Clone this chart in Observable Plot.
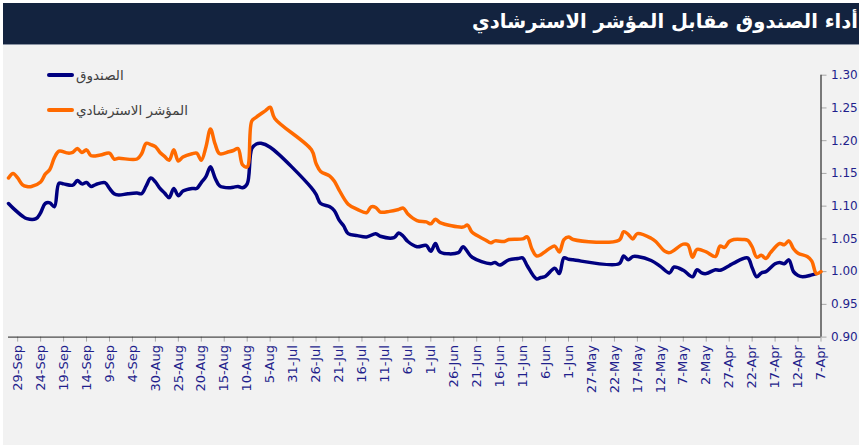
<!DOCTYPE html>
<html><head><meta charset="utf-8">
<script src="https://cdn.jsdelivr.net/npm/d3@7"></script>
<script src="https://cdn.jsdelivr.net/npm/@observablehq/plot@0.6"></script>
<style>
html,body{margin:0;padding:0;background:#fff;}
#wrap{position:relative;width:859px;height:445px;overflow:hidden;background:#fff;}
#panel{position:absolute;left:3px;top:3px;width:856px;height:442px;background:#f2f2f2;}
#title{position:absolute;left:3px;top:3px;width:856px;height:41px;background:#13233f;overflow:hidden;border-bottom:1px solid #8a93a3;}
#title span{position:absolute;right:1px;top:7px;white-space:nowrap;direction:rtl;color:#fff;font:bold 19.5px "DejaVu Sans",sans-serif;}
#chart{position:absolute;left:0;top:45px;}
.leg{position:absolute;display:flex;align-items:center;font:13.5px "DejaVu Sans",sans-serif;color:#404040;white-space:nowrap;}
.leg i{display:inline-block;width:27px;height:3.5px;border-radius:2px;margin-right:2px;}
</style></head>
<body><div id="wrap"><div id="panel"></div><div id="title"><span></span></div><div id="chart"></div></div>
<script>
const titleText = "أداء الصندوق مقابل المؤشر الاسترشادي";
const seriesNames = ["الصندوق", "المؤشر الاسترشادي"];
const seriesColors = ["#000080", "#ff6a00"];

const fundDates = ["2021-10-01","2021-09-30","2021-09-28","2021-09-27","2021-09-25","2021-09-24","2021-09-23","2021-09-22","2021-09-21","2021-09-20","2021-09-19","2021-09-17","2021-09-16","2021-09-15","2021-09-14","2021-09-13","2021-09-12","2021-09-10","2021-09-09","2021-09-08","2021-09-07","2021-09-05","2021-09-03","2021-09-02","2021-09-01","2021-08-31","2021-08-30","2021-08-29","2021-08-28","2021-08-27","2021-08-26","2021-08-25","2021-08-24","2021-08-22","2021-08-21","2021-08-20","2021-08-19","2021-08-18","2021-08-17","2021-08-16","2021-08-14","2021-08-13","2021-08-12","2021-08-11","2021-08-10","2021-08-09","2021-08-08","2021-08-07","2021-08-05","2021-07-27","2021-07-26","2021-07-25","2021-07-23","2021-07-22","2021-07-21","2021-07-20","2021-07-19","2021-07-17","2021-07-15","2021-07-13","2021-07-12","2021-07-09","2021-07-08","2021-07-07","2021-07-06","2021-07-04","2021-07-02","2021-07-01","2021-06-30","2021-06-29","2021-06-25","2021-06-24","2021-06-22","2021-06-18","2021-06-17","2021-06-16","2021-06-14","2021-06-12","2021-06-11","2021-06-10","2021-06-08","2021-06-07","2021-06-06","2021-06-04","2021-06-03","2021-06-02","2021-06-01","2021-05-31","2021-05-21","2021-05-20","2021-05-19","2021-05-18","2021-05-17","2021-05-14","2021-05-12","2021-05-10","2021-05-09","2021-05-07","2021-05-05","2021-05-04","2021-05-03","2021-05-02","2021-04-30","2021-04-29","2021-04-27","2021-04-26","2021-04-23","2021-04-22","2021-04-21","2021-04-20","2021-04-19","2021-04-17","2021-04-16","2021-04-15","2021-04-14","2021-04-13","2021-04-12","2021-04-11","2021-04-09","2021-04-08"];
const fundValues = [1.104,1.097,1.085,1.081,1.081,1.090,1.104,1.105,1.099,1.135,1.134,1.132,1.139,1.134,1.136,1.130,1.133,1.136,1.127,1.119,1.117,1.119,1.120,1.119,1.131,1.143,1.137,1.127,1.120,1.113,1.127,1.116,1.123,1.127,1.127,1.136,1.145,1.160,1.143,1.131,1.128,1.129,1.130,1.128,1.134,1.188,1.195,1.196,1.190,1.128,1.118,1.104,1.099,1.093,1.079,1.070,1.058,1.055,1.053,1.058,1.054,1.052,1.059,1.054,1.046,1.038,1.040,1.031,1.043,1.030,1.029,1.038,1.022,1.012,1.014,1.010,1.018,1.020,1.021,1.009,0.989,0.991,0.993,1.005,0.997,1.021,1.019,1.018,1.012,1.024,1.018,1.023,1.023,1.017,1.008,0.998,1.007,1.002,0.992,1.003,0.998,0.997,1.003,1.002,1.009,1.013,1.021,1.006,0.992,0.998,1.000,1.012,1.014,1.012,1.018,1.000,0.994,0.992,0.995,0.997];

const benchDates = ["2021-10-01","2021-09-30","2021-09-29","2021-09-28","2021-09-27","2021-09-26","2021-09-24","2021-09-23","2021-09-22","2021-09-21","2021-09-20","2021-09-18","2021-09-17","2021-09-16","2021-09-15","2021-09-14","2021-09-13","2021-09-11","2021-09-09","2021-09-08","2021-09-07","2021-09-03","2021-09-02","2021-09-01","2021-08-31","2021-08-30","2021-08-29","2021-08-28","2021-08-27","2021-08-26","2021-08-25","2021-08-24","2021-08-22","2021-08-21","2021-08-20","2021-08-19","2021-08-18","2021-08-17","2021-08-16","2021-08-14","2021-08-13","2021-08-12","2021-08-11","2021-08-10","2021-08-09","2021-08-08","2021-08-06","2021-08-05","2021-08-04","2021-07-27","2021-07-26","2021-07-25","2021-07-23","2021-07-22","2021-07-21","2021-07-19","2021-07-17","2021-07-15","2021-07-14","2021-07-13","2021-07-12","2021-07-10","2021-07-08","2021-07-07","2021-07-06","2021-07-04","2021-07-02","2021-07-01","2021-06-30","2021-06-29","2021-06-24","2021-06-23","2021-06-22","2021-06-19","2021-06-18","2021-06-17","2021-06-15","2021-06-14","2021-06-11","2021-06-10","2021-06-09","2021-06-08","2021-06-07","2021-06-06","2021-06-05","2021-06-04","2021-06-03","2021-06-02","2021-06-01","2021-05-31","2021-05-21","2021-05-20","2021-05-19","2021-05-18","2021-05-17","2021-05-14","2021-05-13","2021-05-11","2021-05-10","2021-05-07","2021-05-06","2021-05-05","2021-05-04","2021-05-02","2021-04-30","2021-04-29","2021-04-28","2021-04-27","2021-04-26","2021-04-24","2021-04-23","2021-04-22","2021-04-21","2021-04-20","2021-04-19","2021-04-18","2021-04-16","2021-04-15","2021-04-14","2021-04-13","2021-04-12","2021-04-10","2021-04-09","2021-04-08","2021-04-07"];
const benchValues = [1.143,1.150,1.143,1.133,1.130,1.130,1.137,1.149,1.156,1.174,1.184,1.181,1.182,1.188,1.182,1.186,1.177,1.178,1.181,1.172,1.173,1.172,1.180,1.196,1.194,1.191,1.182,1.176,1.170,1.186,1.169,1.175,1.180,1.181,1.170,1.190,1.218,1.195,1.180,1.183,1.185,1.188,1.163,1.160,1.230,1.236,1.246,1.251,1.234,1.186,1.165,1.153,1.146,1.138,1.125,1.103,1.095,1.090,1.099,1.098,1.091,1.092,1.095,1.097,1.088,1.078,1.076,1.073,1.080,1.075,1.068,1.071,1.060,1.048,1.044,1.047,1.046,1.049,1.050,1.053,1.035,1.024,1.026,1.031,1.036,1.039,1.030,1.049,1.053,1.049,1.048,1.061,1.057,1.050,1.058,1.051,1.046,1.031,1.029,1.042,1.041,1.022,1.034,1.030,1.023,1.039,1.037,1.046,1.049,1.049,1.048,1.038,1.022,1.025,1.020,1.029,1.043,1.041,1.047,1.035,1.028,1.023,1.016,0.997,1.000];

const xTickDates = ["2021-04-07","2021-04-12","2021-04-17","2021-04-22","2021-04-27","2021-05-02","2021-05-07","2021-05-12","2021-05-17","2021-05-22","2021-05-27","2021-06-01","2021-06-06","2021-06-11","2021-06-16","2021-06-21","2021-06-26","2021-07-01","2021-07-06","2021-07-11","2021-07-16","2021-07-21","2021-07-26","2021-07-31","2021-08-05","2021-08-10","2021-08-15","2021-08-20","2021-08-25","2021-08-30","2021-09-04","2021-09-09","2021-09-14","2021-09-19","2021-09-24","2021-09-29"];
const yTicks = [0.90,0.95,1.00,1.05,1.10,1.15,1.20,1.25,1.30];
const xDomain = ["2021-04-07","2021-10-01"];

document.querySelector("#title span").textContent = titleText;

const fund = fundDates.map((d,i)=>({date:new Date(d), value:fundValues[i]}));
const bench = benchDates.map((d,i)=>({date:new Date(d), value:benchValues[i]}));
const fmt = d3.utcFormat("%-d-%b");

const chart = Plot.plot({
  width: 859, height: 400,
  marginLeft: 8, marginRight: 38.5, marginTop: 29.7, marginBottom: 108.4,
  style: {background: "transparent", fontFamily: "DejaVu Sans, sans-serif", fontSize: "13px"},
  x: {type: "utc", domain: xDomain.map(d=>new Date(d)), reverse: true},
  y: {domain: [0.9, 1.3]},
  marks: [
    Plot.axisX({anchor: "bottom", ticks: xTickDates.map(d=>new Date(d)), tickFormat: fmt, tickRotate: -90, tickSize: 5, tickPadding: 3, stroke: "#a6a6a6", fill: "#1f1f8c", label: null, fontSize: 13}),
    Plot.axisY({anchor: "right", ticks: yTicks, tickFormat: ".2f", tickSize: 5, tickPadding: 5, stroke: "#a6a6a6", fill: "#1f1f8c", label: null, fontSize: 12}),
    Plot.ruleY([0.9], {stroke: "#222"}),
    Plot.ruleX([new Date(xDomain[0])], {stroke: "#000"}),
    Plot.line(fund, {x: "date", y: "value", stroke: seriesColors[0], strokeWidth: 3.5, curve: "catmull-rom"}),
    Plot.line(bench, {x: "date", y: "value", stroke: seriesColors[1], strokeWidth: 3.5, curve: "catmull-rom"})
  ]
});
document.getElementById("chart").appendChild(chart);

const wrap = document.getElementById("wrap");
[[75, 0], [110, 1]].forEach(([y, i]) => {
  const el = document.createElement("div");
  el.className = "leg";
  el.style.left = "47px";
  el.style.top = (y - 9) + "px";
  el.style.height = "18px";
  el.innerHTML = `<i style="background:${seriesColors[i]}"></i><span></span>`;
  el.querySelector("span").textContent = seriesNames[i];
  wrap.appendChild(el);
});
</script></body></html>
